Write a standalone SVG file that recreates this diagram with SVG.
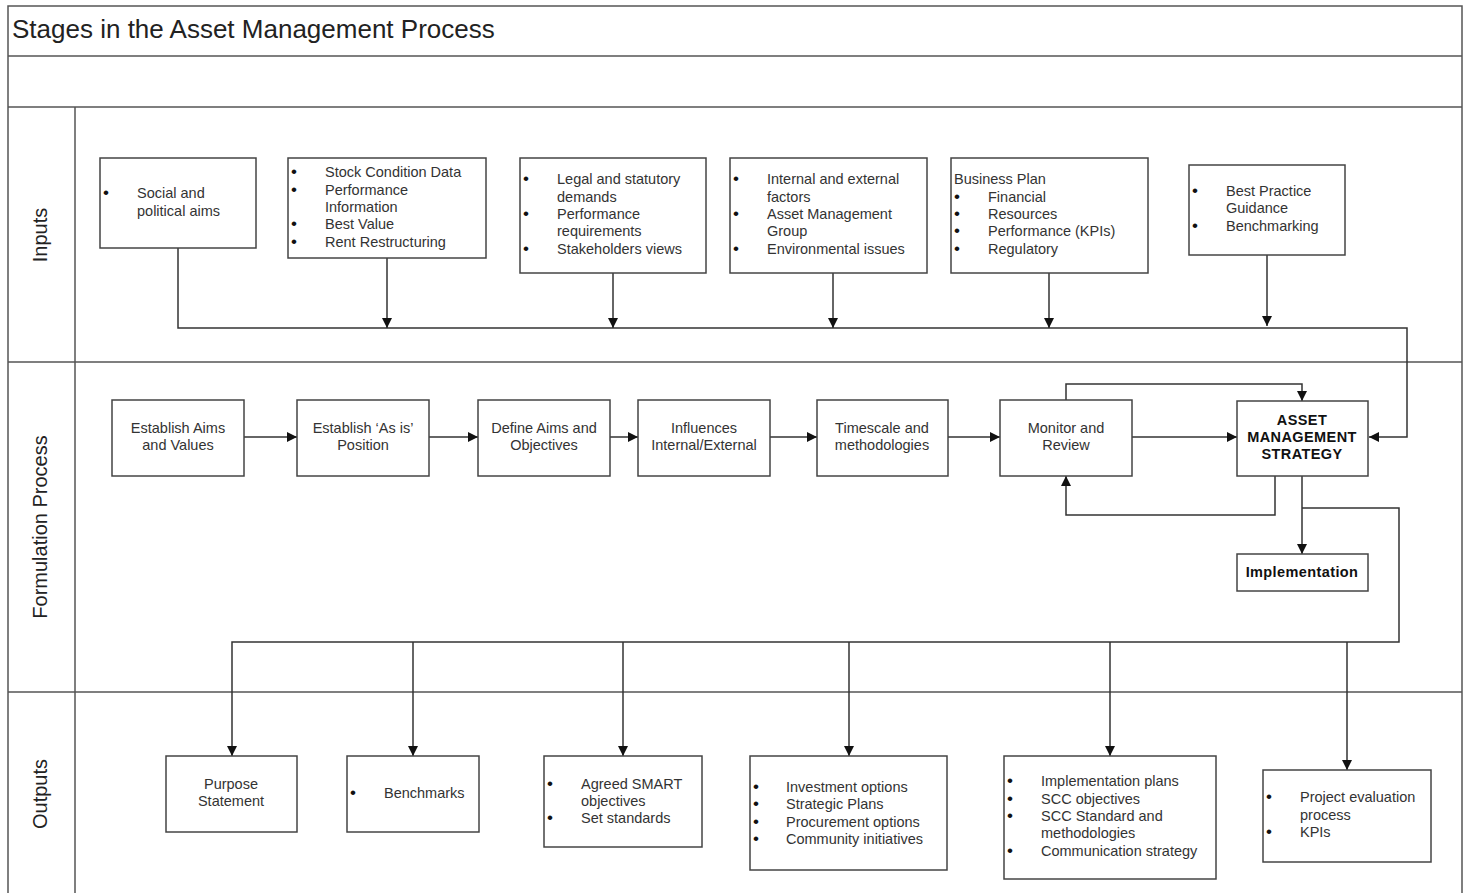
<svg xmlns="http://www.w3.org/2000/svg" width="1467" height="893" viewBox="0 0 1467 893">
<style>
.frame{fill:none;stroke:#555;stroke-width:1.5}
.box{fill:#fff;stroke:#444;stroke-width:1.5}
.ln{fill:none;stroke:#333;stroke-width:1.5}
text{font-family:"Liberation Sans",Arial,sans-serif;font-size:14.5px;fill:#333}
.c{text-anchor:middle}
.b{font-weight:bold;fill:#111;letter-spacing:0.4px}
.title{font-size:26px;fill:#222}
.lane{font-size:20px;fill:#222;text-anchor:middle}
.bu{font-size:17px;fill:#111}
</style>
<defs>
<marker id="ah" viewBox="0 0 10 10" refX="10" refY="5" markerWidth="10" markerHeight="10" markerUnits="userSpaceOnUse" orient="auto">
<path d="M0,0 L10,5 L0,10 z" fill="#111"/>
</marker>
</defs>
<rect width="1467" height="893" fill="#fff"/>
<g id="frame">
<rect class="frame" x="8" y="6" width="1454" height="890"/>
<line class="frame" x1="8" y1="56" x2="1462" y2="56"/>
<line class="frame" x1="8" y1="107" x2="1462" y2="107"/>
<line class="frame" x1="8" y1="362" x2="1462" y2="362"/>
<line class="frame" x1="8" y1="692" x2="1462" y2="692"/>
<line class="frame" x1="75" y1="107" x2="75" y2="893"/>
<text class="title" x="12" y="38">Stages in the Asset Management Process</text>
<text class="lane" transform="translate(47,235) rotate(-90)">Inputs</text>
<text class="lane" transform="translate(47,527) rotate(-90)">Formulation Process</text>
<text class="lane" transform="translate(47,794) rotate(-90)">Outputs</text>
</g>
<g id="connectors">
<path class="ln" d="M178,248 V328 H1407 V437 H1369" marker-end="url(#ah)"/>
<path class="ln" d="M387,258 V328" marker-end="url(#ah)"/>
<path class="ln" d="M613,273 V328" marker-end="url(#ah)"/>
<path class="ln" d="M833,273 V328" marker-end="url(#ah)"/>
<path class="ln" d="M1049,273 V328" marker-end="url(#ah)"/>
<path class="ln" d="M1267,255 V326" marker-end="url(#ah)"/>
<path class="ln" d="M244,437 H297" marker-end="url(#ah)"/>
<path class="ln" d="M429,437 H478" marker-end="url(#ah)"/>
<path class="ln" d="M610,437 H638" marker-end="url(#ah)"/>
<path class="ln" d="M770,437 H817" marker-end="url(#ah)"/>
<path class="ln" d="M948,437 H1000" marker-end="url(#ah)"/>
<path class="ln" d="M1132,437 H1237" marker-end="url(#ah)"/>
<path class="ln" d="M1066,400 V384 H1302 V401" marker-end="url(#ah)"/>
<path class="ln" d="M1275,476 V515 H1066 V476" marker-end="url(#ah)"/>
<path class="ln" d="M1302,476 V554" marker-end="url(#ah)"/>
<path class="ln" d="M1302,508 H1399 V642 H232 V756" marker-end="url(#ah)"/>
<path class="ln" d="M413,642 V756" marker-end="url(#ah)"/>
<path class="ln" d="M623,642 V756" marker-end="url(#ah)"/>
<path class="ln" d="M849,642 V756" marker-end="url(#ah)"/>
<path class="ln" d="M1110,642 V756" marker-end="url(#ah)"/>
<path class="ln" d="M1347,642 V770" marker-end="url(#ah)"/>
</g>
<g id="in-social">
<rect class="box" x="100" y="158" width="156" height="90"/>
<text class="bu" x="103" y="198">•</text>
<text x="137" y="198">Social and</text>
<text x="137" y="216">political aims</text>
</g>
<g id="in-stock">
<rect class="box" x="288" y="158" width="198" height="100"/>
<text class="bu" x="291" y="177">•</text><text x="325" y="177">Stock Condition Data</text>
<text class="bu" x="291" y="195">•</text><text x="325" y="195">Performance</text>
<text x="325" y="212">Information</text>
<text class="bu" x="291" y="229">•</text><text x="325" y="229">Best Value</text>
<text class="bu" x="291" y="247">•</text><text x="325" y="247">Rent Restructuring</text>
</g>
<g id="in-legal">
<rect class="box" x="520" y="158" width="186" height="115"/>
<text class="bu" x="523" y="184">•</text><text x="557" y="184">Legal and statutory</text>
<text x="557" y="202">demands</text>
<text class="bu" x="523" y="219">•</text><text x="557" y="219">Performance</text>
<text x="557" y="236">requirements</text>
<text class="bu" x="523" y="254">•</text><text x="557" y="254">Stakeholders views</text>
</g>
<g id="in-internal">
<rect class="box" x="730" y="158" width="197" height="115"/>
<text class="bu" x="733" y="184">•</text><text x="767" y="184">Internal and external</text>
<text x="767" y="202">factors</text>
<text class="bu" x="733" y="219">•</text><text x="767" y="219">Asset Management</text>
<text x="767" y="236">Group</text>
<text class="bu" x="733" y="254">•</text><text x="767" y="254">Environmental issues</text>
</g>
<g id="in-business">
<rect class="box" x="951" y="158" width="197" height="115"/>
<text x="954" y="184">Business Plan</text>
<text class="bu" x="954" y="202">•</text><text x="988" y="202">Financial</text>
<text class="bu" x="954" y="219">•</text><text x="988" y="219">Resources</text>
<text class="bu" x="954" y="236">•</text><text x="988" y="236">Performance (KPIs)</text>
<text class="bu" x="954" y="254">•</text><text x="988" y="254">Regulatory</text>
</g>
<g id="in-best">
<rect class="box" x="1189" y="165" width="156" height="90"/>
<text class="bu" x="1192" y="196">•</text><text x="1226" y="196">Best Practice</text>
<text x="1226" y="213">Guidance</text>
<text class="bu" x="1192" y="231">•</text><text x="1226" y="231">Benchmarking</text>
</g>
<g id="f-aims">
<rect class="box" x="112" y="400" width="132" height="76"/>
<text class="c" x="178" y="433">Establish Aims</text>
<text class="c" x="178" y="450">and Values</text>
</g>
<g id="f-asis">
<rect class="box" x="297" y="400" width="132" height="76"/>
<text class="c" x="363" y="433">Establish ‘As is’</text>
<text class="c" x="363" y="450">Position</text>
</g>
<g id="f-define">
<rect class="box" x="478" y="400" width="132" height="76"/>
<text class="c" x="544" y="433">Define Aims and</text>
<text class="c" x="544" y="450">Objectives</text>
</g>
<g id="f-influences">
<rect class="box" x="638" y="400" width="132" height="76"/>
<text class="c" x="704" y="433">Influences</text>
<text class="c" x="704" y="450">Internal/External</text>
</g>
<g id="f-timescale">
<rect class="box" x="817" y="400" width="131" height="76"/>
<text class="c" x="882" y="433">Timescale and</text>
<text class="c" x="882" y="450">methodologies</text>
</g>
<g id="f-monitor">
<rect class="box" x="1000" y="400" width="132" height="76"/>
<text class="c" x="1066" y="433">Monitor and</text>
<text class="c" x="1066" y="450">Review</text>
</g>
<g id="f-ams">
<rect class="box" x="1237" y="401" width="131" height="75"/>
<text class="c b" x="1302" y="425">ASSET</text>
<text class="c b" x="1302" y="442">MANAGEMENT</text>
<text class="c b" x="1302" y="459">STRATEGY</text>
</g>
<g id="f-impl">
<rect class="box" x="1237" y="554" width="131" height="37"/>
<text class="c b" x="1302" y="577">Implementation</text>
</g>
<g id="o-purpose">
<rect class="box" x="166" y="756" width="131" height="76"/>
<text class="c" x="231" y="789">Purpose</text>
<text class="c" x="231" y="806">Statement</text>
</g>
<g id="o-bench">
<rect class="box" x="347" y="756" width="132" height="76"/>
<text class="bu" x="350" y="798">•</text><text x="384" y="798">Benchmarks</text>
</g>
<g id="o-smart">
<rect class="box" x="544" y="756" width="158" height="91"/>
<text class="bu" x="547" y="789">•</text><text x="581" y="789">Agreed SMART</text>
<text x="581" y="806">objectives</text>
<text class="bu" x="547" y="823">•</text><text x="581" y="823">Set standards</text>
</g>
<g id="o-invest">
<rect class="box" x="750" y="756" width="197" height="114"/>
<text class="bu" x="753" y="792">•</text><text x="786" y="792">Investment options</text>
<text class="bu" x="753" y="809">•</text><text x="786" y="809">Strategic Plans</text>
<text class="bu" x="753" y="827">•</text><text x="786" y="827">Procurement options</text>
<text class="bu" x="753" y="844">•</text><text x="786" y="844">Community initiatives</text>
</g>
<g id="o-implplans">
<rect class="box" x="1004" y="756" width="212" height="123"/>
<text class="bu" x="1007" y="786">•</text><text x="1041" y="786">Implementation plans</text>
<text class="bu" x="1007" y="804">•</text><text x="1041" y="804">SCC objectives</text>
<text class="bu" x="1007" y="821">•</text><text x="1041" y="821">SCC Standard and</text>
<text x="1041" y="838">methodologies</text>
<text class="bu" x="1007" y="856">•</text><text x="1041" y="856">Communication strategy</text>
</g>
<g id="o-project">
<rect class="box" x="1263" y="770" width="168" height="92"/>
<text class="bu" x="1266" y="802">•</text><text x="1300" y="802">Project evaluation</text>
<text x="1300" y="820">process</text>
<text class="bu" x="1266" y="837">•</text><text x="1300" y="837">KPIs</text>
</g>
</svg>
